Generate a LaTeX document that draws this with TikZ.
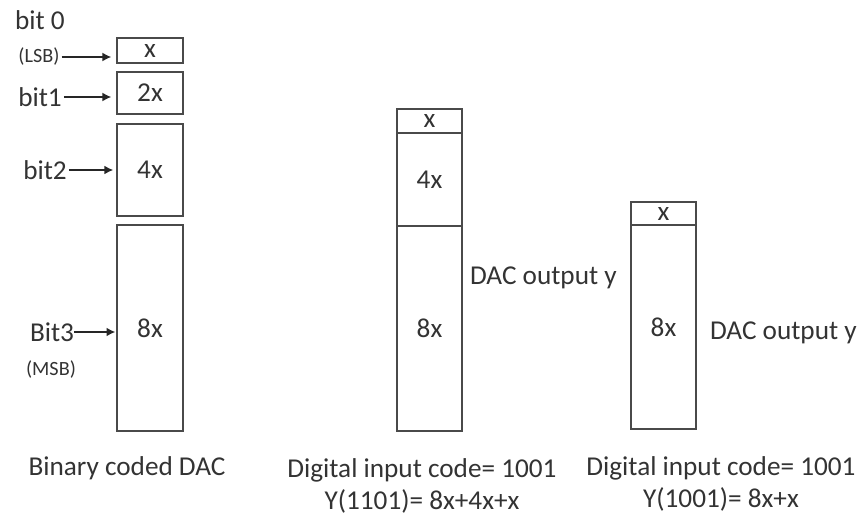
\documentclass[tikz,border=0pt]{standalone}
\usepackage{fontspec}
\setmainfont{Carlito}
\usepackage{tikz}
\usetikzlibrary{arrows.meta, positioning}
\definecolor{inkgray}{HTML}{333333}
\definecolor{linegray}{HTML}{4A4A4A}

\begin{document}
\begin{tikzpicture}[
  x=0.02cm, y=-0.02cm,
  cell/.style={draw=linegray, line width=0.9pt, minimum width=1.31cm,
               inner sep=0pt, outer sep=0pt, text=inkgray,
               font=\fontsize{15.5}{18}\selectfont},
  lbl/.style={text=inkgray, inner sep=1pt, font=\fontsize{15.5}{18}\selectfont},
  tiny/.style={text=inkgray, inner sep=1pt, font=\fontsize{11.5}{13}\selectfont},
  captext/.style={text=inkgray, align=center, inner sep=0pt,
              font=\fontsize{15.5}{18.1}\selectfont},
  arr/.style={-{Latex[length=5pt,width=5pt]}, line width=0.8pt, black!85},
]
  \useasboundingbox (0,0) rectangle (862,517);
  % --- binary coded DAC: one box per bit ---
  \node[cell, minimum height=0.50cm] (b0) at (150,50.5) {x};
  \node[cell, minimum height=0.84cm] (b1) at (150,93) {2x};
  \node[cell, minimum height=1.84cm] (b2) at (150,170) {4x};
  \node[cell, minimum height=4.12cm] (b3) at (150,328) {8x};
  % bit names
  \node[lbl]  (bitz) at (40,20) {bit 0};
  \node[tiny] (lsb)  at (39,57) {(LSB)};
  \node[lbl]  (bito) at (40,97) {bit1};
  \node[lbl]  (bitt) at (45,170) {bit2};
  \node[lbl, inner sep=0pt] (bith) at (52,332) {Bit3};
  \node[tiny] (msb)  at (51,370) {(MSB)};
  \draw[arr, shorten >=3.4pt] (lsb.east) -- (lsb.east -| b0.west);
  \draw[arr, shorten >=3.4pt] (bito.east) -- (bito.east -| b1.west);
  \draw[arr, shorten >=2.3pt] (bitt.east) -- (bitt.east -| b2.west);
  \draw[arr, shorten >=1.1pt] (bith.east) -- (bith.east -| b3.west);
  \node[captext] (capa) at (127,468) {Binary coded DAC};
  % --- code 1101 : 8x+4x+x ---
  \node[cell, minimum height=0.48cm] (ma) at (429.5,121) {x};
  \node[cell, minimum height=1.86cm, below=0pt of ma] (mb) {4x};
  \node[cell, minimum height=4.10cm, below=0pt of mb] (mc) {8x};
  \node[lbl, anchor=west] (outm) at (468,278) {DAC output y};
  \node[captext] (capm) at (422,486) {Digital input code= 1001\\Y(1101)= 8x+4x+x};
  % --- code 1001 : 8x+x ---
  \node[cell, minimum height=0.46cm] (ra) at (663.5,213.5) {x};
  \node[cell, minimum height=4.08cm, below=0pt of ra] (rb) {8x};
  \node[lbl, anchor=west] (outr) at (708,333) {DAC output y};
  \node[captext] (capr) at (721,484) {Digital input code= 1001\\Y(1001)= 8x+x};
\end{tikzpicture}
\end{document}
